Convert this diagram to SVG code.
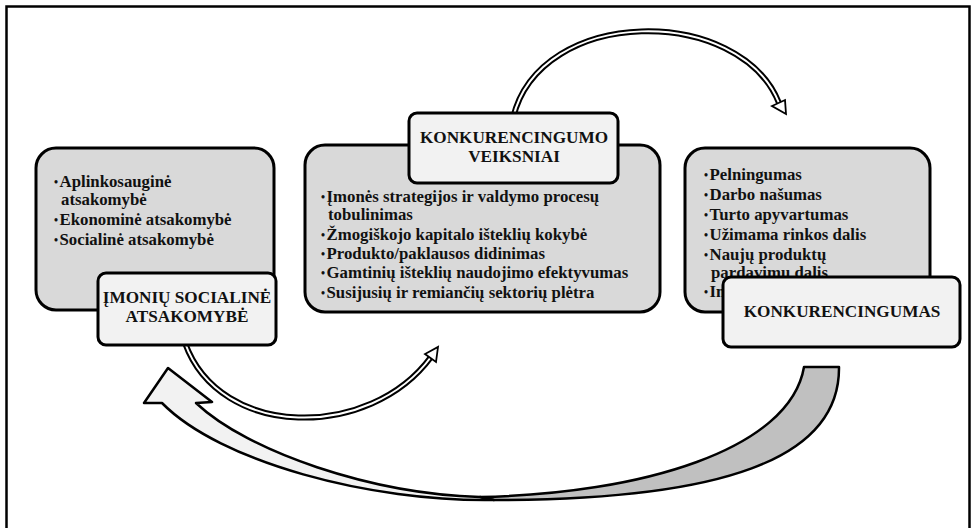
<svg xmlns="http://www.w3.org/2000/svg" width="975" height="528" viewBox="0 0 975 528">
  <style>
    .frame { fill: #ffffff; stroke: #000000; stroke-width: 2.5; }
    .box { fill: #d9d9d9; stroke: #000000; stroke-width: 3; }
    .label { fill: #f2f2f2; stroke: #000000; stroke-width: 3; }
    .item { font-family: "Liberation Serif", "Times New Roman", serif; font-weight: bold; font-size: 16.8px; fill: #111111; }
    .title { font-family: "Liberation Serif", "Times New Roman", serif; font-weight: bold; font-size: 17.2px; fill: #111111; text-anchor: middle; }
    .bul { font-size: 11.5px; }
    .pipe-out { fill: none; stroke: #000000; stroke-width: 6; stroke-linecap: butt; }
    .pipe-in { fill: none; stroke: #ffffff; stroke-width: 2; stroke-linecap: butt; }
    .head { fill: #ffffff; stroke: #000000; stroke-width: 1.8; stroke-linejoin: miter; }
    .band-light { fill: #f2f2f2; stroke: #000000; stroke-width: 2.5; stroke-linejoin: round; }
    .band-dark { fill: #c0c0c0; stroke: #000000; stroke-width: 2.5; stroke-linejoin: round; }
  </style>

  <rect class="frame" x="6.5" y="6.5" width="963" height="530"/>

  <g id="connectors">
    <!-- upper arc: factors -> competitiveness -->
    <path class="pipe-out" d="M 513,118 C 540,5 740,5 779,103"/>
    <path class="pipe-in" d="M 513,118 C 540,5 740,5 779,103"/>
    <polygon class="head" points="786,114 772,106 785,100"/>

    <!-- lower small arc: social responsibility -> factors -->
    <path class="pipe-out" d="M 185,343 C 220,440 370,440 431,357"/>
    <path class="pipe-in" d="M 185,343 C 220,440 370,440 431,357"/>
    <polygon class="head" points="438,347 436,362 425,354"/>

    <!-- wide return arrow: competitiveness -> social responsibility -->
    <path class="band-dark" d="M 480,497 C 640,494 790,450 804,367 L 839,367 C 840,460 720,500 494,500 Z"/>
    <path class="band-light" d="M 494,500 C 370,502 220,462 162,403 L 144,403 L 168,368 L 212,402 L 196,403 C 248,452 372,494 480,497 Z"/>
  </g>

  <g id="node-social">
    <rect class="box" x="36" y="148" width="238" height="162" rx="20"/>
    <text class="item" x="54" y="187"><tspan class="bul" dy="-1">•</tspan><tspan dx="1.5" dy="1">Aplinkosauginė</tspan></text>
    <text class="item" x="61" y="205">atsakomybė</text>
    <text class="item" x="54" y="225"><tspan class="bul" dy="-1">•</tspan><tspan dx="1.5" dy="1">Ekonominė atsakomybė</tspan></text>
    <text class="item" x="54" y="245"><tspan class="bul" dy="-1">•</tspan><tspan dx="1.5" dy="1">Socialinė atsakomybė</tspan></text>
  </g>
  <g id="label-social">
    <rect class="label" x="98" y="273" width="178" height="72" rx="8"/>
    <text class="title" x="187" y="303">ĮMONIŲ SOCIALINĖ</text>
    <text class="title" x="187" y="322">ATSAKOMYBĖ</text>
  </g>

  <g id="node-factors">
    <rect class="box" x="305" y="145" width="355" height="167" rx="20"/>
    <text class="item" x="321" y="202"><tspan class="bul" dy="-1">•</tspan><tspan dx="1.5" dy="1">Įmonės strategijos ir valdymo procesų</tspan></text>
    <text class="item" x="328" y="220">tobulinimas</text>
    <text class="item" x="321" y="240"><tspan class="bul" dy="-1">•</tspan><tspan dx="1.5" dy="1">Žmogiškojo kapitalo išteklių kokybė</tspan></text>
    <text class="item" x="321" y="259"><tspan class="bul" dy="-1">•</tspan><tspan dx="1.5" dy="1">Produkto/paklausos didinimas</tspan></text>
    <text class="item" x="321" y="278"><tspan class="bul" dy="-1">•</tspan><tspan dx="1.5" dy="1">Gamtinių išteklių naudojimo efektyvumas</tspan></text>
    <text class="item" x="321" y="298"><tspan class="bul" dy="-1">•</tspan><tspan dx="1.5" dy="1">Susijusių ir remiančių sektorių plėtra</tspan></text>
  </g>
  <g id="label-factors">
    <rect class="label" x="409" y="113" width="209" height="70" rx="8"/>
    <text class="title" x="514" y="143">KONKURENCINGUMO</text>
    <text class="title" x="514" y="162">VEIKSNIAI</text>
  </g>

  <g id="node-competitiveness">
    <rect class="box" x="685" y="148" width="245" height="164" rx="20"/>
    <text class="item" x="704" y="180"><tspan class="bul" dy="-1">•</tspan><tspan dx="1.5" dy="1">Pelningumas</tspan></text>
    <text class="item" x="704" y="200"><tspan class="bul" dy="-1">•</tspan><tspan dx="1.5" dy="1">Darbo našumas</tspan></text>
    <text class="item" x="704" y="220"><tspan class="bul" dy="-1">•</tspan><tspan dx="1.5" dy="1">Turto apyvartumas</tspan></text>
    <text class="item" x="704" y="240"><tspan class="bul" dy="-1">•</tspan><tspan dx="1.5" dy="1">Užimama rinkos dalis</tspan></text>
    <text class="item" x="704" y="260"><tspan class="bul" dy="-1">•</tspan><tspan dx="1.5" dy="1">Naujų produktų</tspan></text>
    <text class="item" x="711" y="278">pardavimų dalis</text>
    <text class="item" x="704" y="297"><tspan class="bul" dy="-1">•</tspan><tspan dx="1.5" dy="1">Inovacijos</tspan></text>
  </g>
  <g id="label-competitiveness">
    <rect class="label" x="723" y="277" width="237" height="70" rx="8"/>
    <text class="title" x="842" y="317">KONKURENCINGUMAS</text>
  </g>
</svg>
